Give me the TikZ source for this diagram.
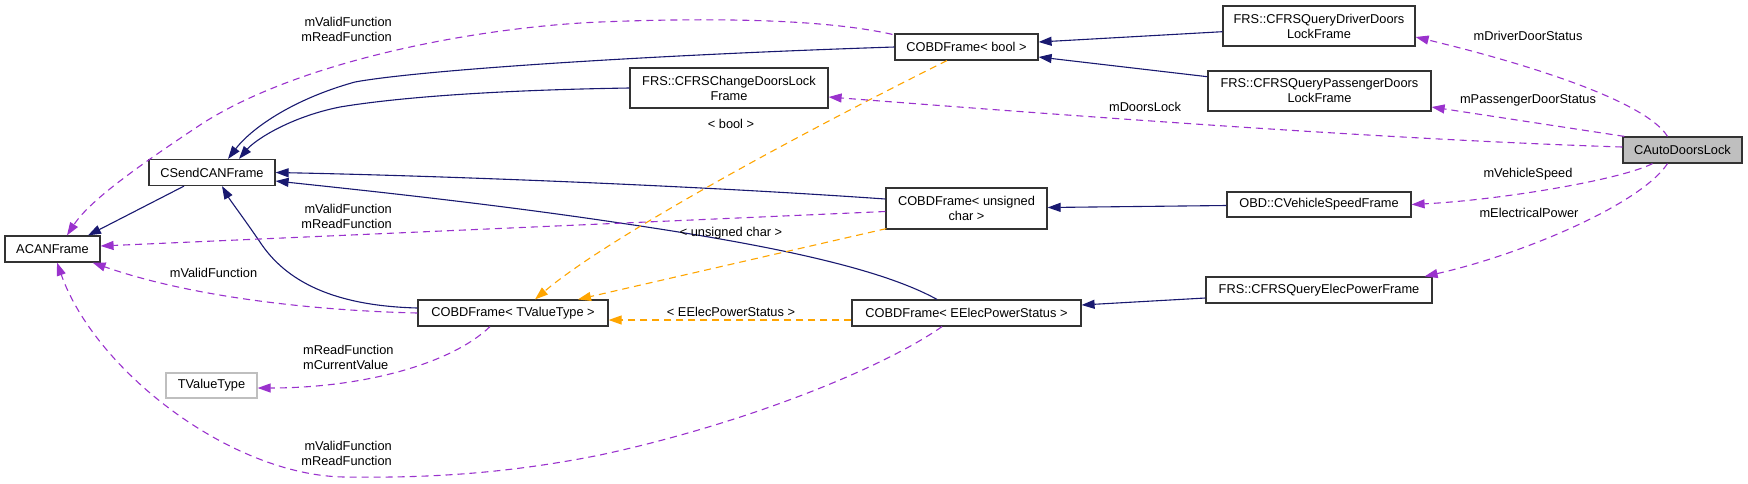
\documentclass[tikz,border=0pt]{standalone}
\usepackage{fontspec}
\setmainfont{Liberation Sans}
\usetikzlibrary{arrows.meta,calc}
\definecolor{navy}{HTML}{191970}
\definecolor{purp}{HTML}{9A32CD}
\definecolor{orng}{HTML}{FFA500}
\definecolor{nodegray}{HTML}{BFBFBF}
\begin{document}
\begin{tikzpicture}[x=1pt,y=-1pt,
  every node/.style={font=\fontsize{12.8}{15}\selectfont},
  cls/.style={draw=black!80, line width=1.2pt, fill=white, inner sep=0pt, align=center},
  inh/.style={draw=navy, line width=1.1pt, -{Triangle[length=13pt,width=9pt]}},
  mem/.style={draw=purp, line width=1.1pt, dash pattern=on 7pt off 5pt, -{Triangle[length=13pt,width=9pt]}},
  tpl/.style={draw=orng, line width=1.1pt, dash pattern=on 7pt off 5pt, -{Triangle[length=13pt,width=9pt]}},
  lbl/.style={inner sep=0pt}
]
\useasboundingbox (0,0) rectangle (1748,483);
% nodes
\node[cls, minimum width=143pt, minimum height=26pt] (bool) at (966.5,47) {COBDFrame< bool >};
\node[cls, minimum width=192pt, minimum height=40pt] (driver) at (1319,26) {FRS::CFRSQueryDriverDoors\\LockFrame};
\node[cls, minimum width=198pt, minimum height=40pt] (change) at (729,88) {FRS::CFRSChangeDoorsLock\\Frame};
\node[cls, minimum width=223pt, minimum height=40pt] (pass) at (1319.5,91) {FRS::CFRSQueryPassengerDoors\\LockFrame};
\node[cls, fill=nodegray, minimum width=119pt, minimum height=26pt] (auto) at (1682.5,150) {CAutoDoorsLock};
\node[cls, minimum width=126pt, minimum height=26pt] (send) at (212,172.5) {CSendCANFrame};
\node[cls, minimum width=161pt, minimum height=41pt] (uc) at (966.5,208.5) {COBDFrame< unsigned\\char >};
\node[cls, minimum width=184pt, minimum height=25pt] (speed) at (1319,204.5) {OBD::CVehicleSpeedFrame};
\node[cls, minimum width=95pt, minimum height=26pt] (acan) at (52.5,249) {ACANFrame};
\node[cls, minimum width=190pt, minimum height=26pt] (tvt) at (513,313) {COBDFrame< TValueType >};
\node[cls, minimum width=229pt, minimum height=26pt] (eeps) at (966.5,313) {COBDFrame< EElecPowerStatus >};
\node[cls, minimum width=226pt, minimum height=26pt] (elec) at (1319,290) {FRS::CFRSQueryElecPowerFrame};
\node[cls, draw=nodegray, minimum width=91pt, minimum height=25pt] (tvalue) at (211.5,385.5) {TValueType};
% inheritance
\draw[inh] ($(send.south)+(-28,0)$) -- ($(acan.north)+(35.5,0)$);
\draw[inh] (bool.west) .. controls (650,55) and (420,70) .. (355,82) .. controls (290,100) and (250,130) .. ($(send.north)+(16,0)$);
\draw[inh] (change.west) .. controls (500,90) and (400,97) .. (340,107) .. controls (290,117) and (255,140) .. ($(send.north)+(27,0)$);
\draw[inh] ($(uc.west)+(0,-9.5)$) .. controls (700,186) and (450,176) .. (send.east);
\draw[inh] ($(eeps.north)+(-29.5,0)$) .. controls (880,268) and (770,245) .. (620,223) .. controls (500,205) and (380,192) .. ($(send.east)+(0,8.5)$);
\draw[inh] ($(tvt.west)+(0,-5)$) .. controls (340,306) and (290,285) .. (262,245) .. controls (245,220) and (230,200) .. ($(send.south)+(10,0)$);
\draw[inh] ($(driver.west)+(0,5.7)$) -- ($(bool.east)+(0,-5)$);
\draw[inh] ($(pass.west)+(0,-14.3)$) -- ($(bool.east)+(0,10)$);
\draw[inh] ($(speed.west)+(0,1)$) -- ($(uc.east)+(0,-1)$);
\draw[inh] ($(elec.west)+(0,8)$) -- ($(eeps.east)+(0,-8)$);
% template instances
\draw[tpl] ($(bool.south)+(-19.5,0)$) .. controls (787,140) and (605,240) .. ($(tvt.north)+(22,0)$);
\node[lbl] (lbool) at (731,124) {< bool >};
\draw[tpl] ($(uc.south west)+(1,-1)$) -- ($(tvt.north)+(65,0)$);
\node[lbl] (luc) at (731,233) {< unsigned char >};
\draw[tpl] ($(eeps.west)+(0,7)$) -- ($(tvt.east)+(0,7)$);
\node[lbl] (leeps) at (731,312) {< EElecPowerStatus >};
% members
\draw[mem] ($(bool.north west)+(-2,1)$) .. controls (820,18) and (700,18) .. (600,22) .. controls (480,27) and (300,60) .. (200,125) .. controls (140,165) and (90,200) .. ($(acan.north)+(14.5,0)$);
\node[lbl, anchor=east, align=right] (l1) at (392,29) {mValidFunction\\mReadFunction};
\draw[mem] ($(uc.west)+(0,3)$) -- ($(acan.east)+(0,-3)$);
\node[lbl, anchor=east, align=right] (l2) at (392,216.5) {mValidFunction\\mReadFunction};
\draw[mem] (tvt.west) .. controls (330,311) and (200,300) .. ($(acan.south east)+(-8,0)$);
\node[lbl] (l3) at (213.5,273) {mValidFunction};
\draw[mem] ($(tvt.south)+(-23,0)$) .. controls (450,365) and (360,388) .. ($(tvalue.east)+(0,2.5)$);
\node[lbl, anchor=west, align=left] (l4) at (303,357.5) {mReadFunction\\mCurrentValue};
\draw[mem] ($(eeps.south)+(-24.5,0)$) .. controls (880,370) and (740,425) .. (600,455) .. controls (500,475) and (420,478) .. (344,477) .. controls (230,475) and (95,370) .. ($(acan.south)+(4.5,0)$);
\node[lbl, anchor=east, align=right] (l5) at (392,453) {mValidFunction\\mReadFunction};
\draw[mem] ($(auto.north)+(-15,0)$) .. controls (1645,100) and (1520,62) .. ($(driver.east)+(0,11)$);
\node[lbl] (l6) at (1528,36) {mDriverDoorStatus};
\draw[mem] ($(auto.north west)+(2,0)$) -- ($(pass.east)+(0,16)$);
\node[lbl] (l7) at (1528,100) {mPassengerDoorStatus};
\draw[mem] ($(auto.west)+(0,-3)$) .. controls (1400,140) and (1100,118) .. ($(change.east)+(0,9)$);
\node[lbl] (l8) at (1145,107) {mDoorsLock};
\draw[mem] ($(auto.south)+(-30,0)$) .. controls (1620,180) and (1500,200) .. (speed.east);
\node[lbl] (l9) at (1528,174) {mVehicleSpeed};
\draw[mem] ($(auto.south)+(-15,0)$) .. controls (1640,205) and (1520,255) .. ($(elec.north east)+(-8,0)$);
\node[lbl] (l10) at (1529,213) {mElectricalPower};
\end{tikzpicture}
\end{document}
